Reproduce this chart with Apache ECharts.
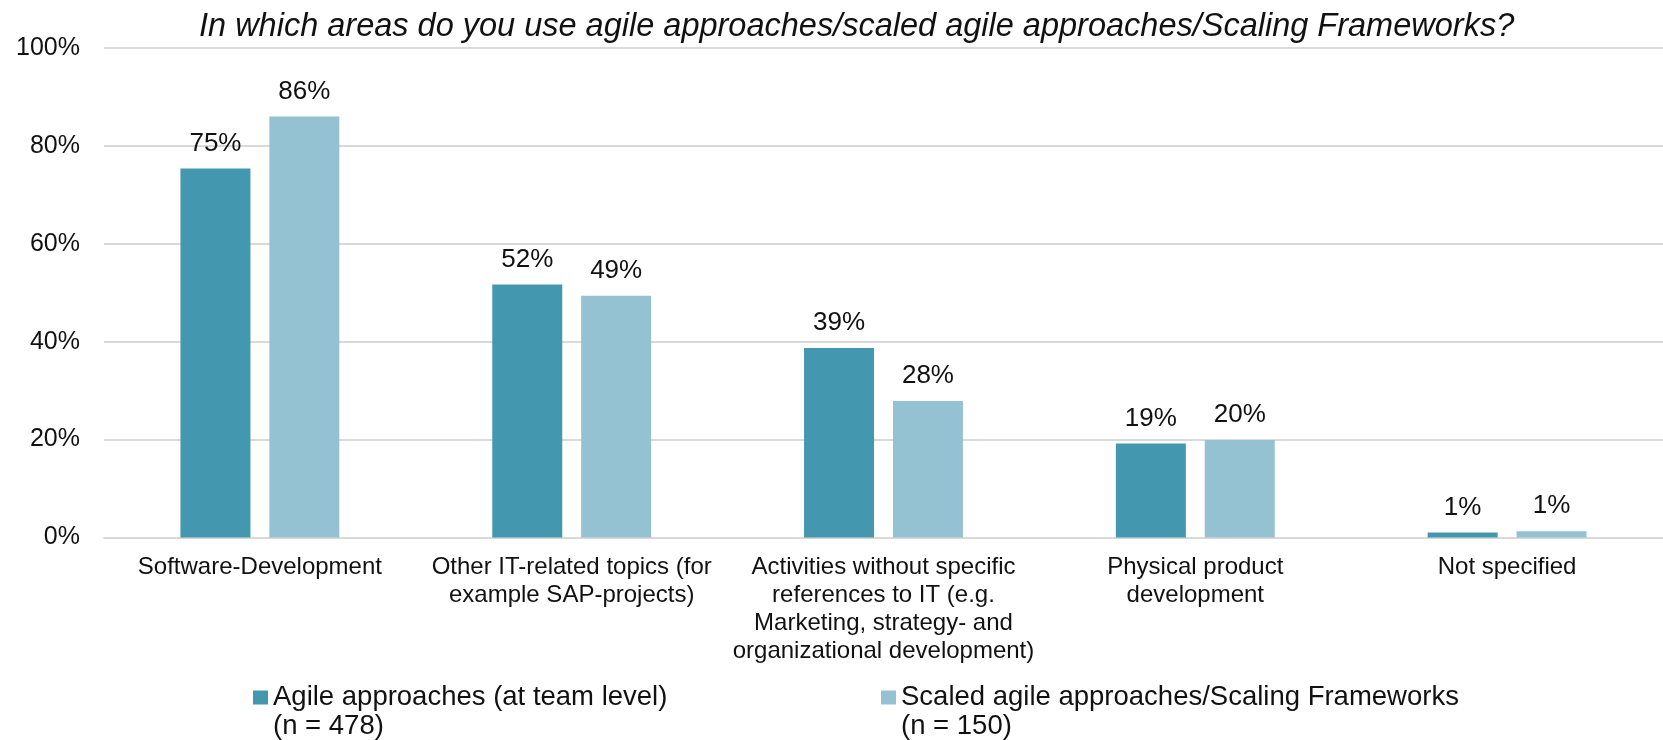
<!DOCTYPE html>
<html>
<head>
<meta charset="utf-8">
<script src="https://cdn.jsdelivr.net/npm/echarts@6/dist/echarts.min.js"></script>
<style>
  html, body { margin: 0; padding: 0; background: #fff; }
  #bar { width: 1663px; height: 740px; }
</style>
</head>
<body>
<div id="bar"></div>
<script>
// chart values
var categories = [
	'Software-Development',
	'Other IT-related topics (for\nexample SAP-projects)',
	'Activities without specific\nreferences to IT (e.g.\nMarketing, strategy- and\norganizational development)',
	'Physical product\ndevelopment',
	'Not specified'
]
var seriesNames = [
	'Agile approaches (at team level)\n(n = 478)',
	'Scaled agile approaches/Scaling Frameworks\n(n = 150)'
]
var agileTeam = [75.4, 51.7, 38.7, 19.2, 1.0]
var scaledAgile = [86.0, 49.4, 27.9, 19.9, 1.3]
var yTicks = [0, 20, 40, 60, 80, 100]

var font = '"Liberation Sans", Arial, sans-serif'
var colors = ['#4397AF', '#94C2D3']

function bar() {
	let myChart = echarts.init(document.getElementById('bar'))
	let labelOption = {
		show: true,
		position: 'top',
		distance: 12,
		fontSize: 26,
		fontFamily: font,
		color: '#111',
		formatter: function (p) { return Math.round(p.value) + '%' }
	}
	let values = [agileTeam, scaledAgile]
	let series = []
	for (let i in seriesNames) {
		series.push({
			name: seriesNames[i],
			type: 'bar',
			barWidth: 70,
			barGap: '27%',
			label: labelOption,
			itemStyle: { color: colors[i] },
			data: values[i]
		})
	}
	// empty first line so the marker sits next to the first text line
	let legendBase = {
		top: 654,
		padding: 0,
		icon: 'rect',
		itemWidth: 15,
		itemHeight: 14,
		formatter: function (name) { return ' \n' + name },
		textStyle: { fontSize: 27.5, fontFamily: font, color: '#111', lineHeight: 29 }
	}
	let option = {
		animation: false,
		textStyle: { fontFamily: font },
		title: {
			text: 'In which areas do you use agile approaches/scaled agile approaches/Scaling Frameworks?',
			left: 199,
			top: 10,
			padding: 0,
			textStyle: { fontSize: 32.5, fontStyle: 'italic', fontWeight: 'normal', color: '#111', fontFamily: font }
		},
		legend: [
			Object.assign({}, legendBase, { data: [seriesNames[0]], left: 253 }),
			Object.assign({}, legendBase, { data: [seriesNames[1]], left: 881 })
		],
		grid: { left: 104, right: 0, top: 48, bottom: 202.5, containLabel: false, outerBoundsMode: 'none' },
		xAxis: [{
			type: 'category',
			data: categories,
			axisTick: { show: false },
			axisLine: { lineStyle: { color: '#D9D9D9', width: 2 } },
			axisLabel: { fontSize: 24, lineHeight: 28, margin: 16, color: '#111', fontFamily: font, interval: 0 }
		}],
		yAxis: [{
			type: 'value',
			min: yTicks[0],
			max: yTicks[yTicks.length - 1],
			interval: yTicks[1] - yTicks[0],
			axisLabel: { formatter: '{value}%', fontSize: 25, margin: 24, color: '#111', fontFamily: font },
			splitLine: { lineStyle: { color: '#D9D9D9', width: 2 } },
			axisLine: { show: false },
			axisTick: { show: false }
		}],
		series: series
	}
	myChart.setOption(option)
}
bar()
</script>
</body>
</html>
